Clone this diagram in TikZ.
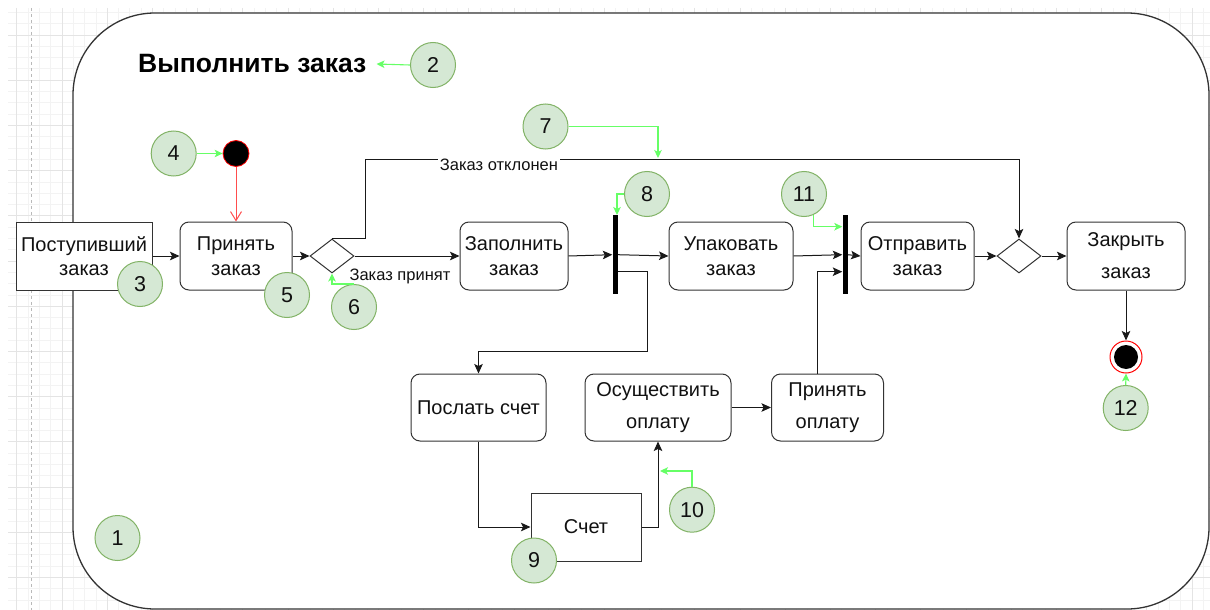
\documentclass[tikz,border=0pt]{standalone}
\usepackage{fontspec}
\setmainfont{Liberation Sans}
\usetikzlibrary{arrows.meta,shapes.geometric,calc}

\definecolor{numfill}{HTML}{D5E8D4}
\definecolor{numdraw}{HTML}{82B366}
\definecolor{garrow}{HTML}{66FF66}
\definecolor{rarrow}{HTML}{FF4D4D}
\definecolor{linec}{HTML}{333333}
\definecolor{gridminor}{HTML}{F3F3F3}
\definecolor{gridmajor}{HTML}{E4E4E4}
\definecolor{txt}{HTML}{111111}

\newcommand\bxfont{\fontsize{20}{24.5}\selectfont}
\newcommand\bxfontw{\fontsize{20}{32}\selectfont}
\newcommand\lblfont{\fontsize{16.5}{19}\selectfont}
\newcommand\numfnt{\fontsize{21.5}{24}\selectfont}
\newcommand\ttlfont{\fontsize{26.5}{30}\selectfont\bfseries}

\tikzset{
  act/.style={draw=linec, line width=1pt, rounded corners=9pt, fill=white,
    align=center, font=\bxfont, text=txt, inner sep=0pt, minimum height=68pt},
  wideact/.style={act, font=\bxfontw},
  obj/.style={draw=linec, line width=1pt, fill=white, align=center,
    font=\bxfont, text=txt, inner sep=0pt, minimum height=68pt},
  dia/.style={diamond, draw=linec, line width=1pt, fill=white,
    minimum width=44pt, minimum height=34pt, inner sep=0pt},
  bar/.style={rectangle, fill=black, draw=none, minimum width=5pt,
    minimum height=79pt, inner sep=0pt},
  num/.style={circle, fill=numfill, draw=numdraw, line width=1pt,
    minimum size=45pt, inner sep=0pt, font=\numfnt, text=txt},
  initnode/.style={circle, fill=black, draw=red, line width=0.8pt,
    minimum size=26pt, inner sep=0pt},
  finalnode/.style={circle, fill=white, draw=red, line width=1pt,
    minimum size=32pt, inner sep=0pt,
    path picture={\fill[black] (path picture bounding box.center) circle (12pt);}},
  arr/.style={draw=black!90, line width=1pt,
    -{Stealth[length=9.5pt,width=8.5pt,inset=2pt]}},
  garr/.style={draw=garrow, line width=1.1pt,
    -{Stealth[length=8pt,width=7.5pt,inset=2pt]}},
  rarr/.style={draw=rarrow, line width=1pt,
    -{Straight Barb[length=9pt,width=11pt]}},
  lbl/.style={font=\lblfont, text=txt, inner sep=2pt}
}

\begin{document}
\begin{tikzpicture}[x=1pt,y=-1pt]
\useasboundingbox (0,0) rectangle (1210,610);

% background grid
\begin{scope}
  \clip (8,8) rectangle (1210,610);
  \foreach \k [evaluate=\k as \gx using 16.8+11.3*\k] in {0,...,106}
    \draw[gridminor, line width=0.8pt] (\gx,8) -- (\gx,610);
  \foreach \k [evaluate=\k as \gy using 12.4+11.3*\k] in {0,...,53}
    \draw[gridminor, line width=0.8pt] (8,\gy) -- (1210,\gy);
  \foreach \k [evaluate=\k as \gx using 16.8+45.2*\k] in {0,...,26}
    \draw[gridmajor, line width=0.8pt] (\gx,8) -- (\gx,610);
  \foreach \k [evaluate=\k as \gy using 35+45.2*\k] in {0,...,13}
    \draw[gridmajor, line width=0.8pt] (8,\gy) -- (1210,\gy);
  \draw[gray!55, line width=0.8pt, dash pattern=on 3pt off 3pt] (31,8) -- (31,610);
\end{scope}

% activity frame
\filldraw[fill=white, draw=linec, line width=1.3pt, rounded corners=82pt]
  (73,13) rectangle (1209,609);

% title
\node[font=\ttlfont, text=black, inner xsep=10pt, inner ysep=0pt, anchor=west]
  (title) at (128,64) {Выполнить заказ};

% nodes
\node[initnode] (init) at (236,153.5) {};
\node[obj, minimum width=136pt] (post) at (84,256) {Поступивший\\заказ};
\node[act, minimum width=112pt] (accept) at (236,256) {Принять\\заказ};
\node[dia] (d1) at (332,256) {};
\node[act, minimum width=108pt] (fill) at (514,256) {Заполнить\\заказ};
\node[bar] (fork1) at (615,254.7) {};
\node[act, minimum width=124pt] (pack) at (731,256) {Упаковать\\заказ};
\node[bar] (join) at (845,254.7) {};
\node[act, minimum width=113pt] (ship) at (917.5,256) {Отправить\\заказ};
\node[dia] (d2) at (1019,256) {};
\node[wideact, minimum width=118pt] (close) at (1126,256) {Закрыть\\заказ};
\node[finalnode] (final) at (1126,357) {};
\node[act, minimum width=135pt, minimum height=67pt] (send) at (478.5,407.5) {Послать счет};
\node[wideact, minimum width=146pt, minimum height=67pt] (pay) at (658,407.5) {Осуществить\\оплату};
\node[wideact, minimum width=112pt, minimum height=67pt] (payok) at (827.5,407.5) {Принять\\оплату};
\node[obj, minimum width=110pt] (bill) at (586,527) {Счет};

% helper coordinates
\coordinate (rj) at (1019,159);
\coordinate (rl) at (365,159);
\coordinate (c1) at (647,351);
\coordinate (r7) at (658,158);
\coordinate (r10) at (660,471);

% connectors
\draw[rarr] (init.south) -- (accept.north);
\draw[arr] (post.east) -- (accept.west);
\draw[arr] (accept.east) -- (d1.west);
\draw[arr] (d1.north) -| (rl) -- (rj) -- (d2.north);
\node[lbl, fill=white] (rej) at (499,165) {Заказ отклонен};
\draw[arr] (d1.east) -- (fill.west);
\node[lbl] (acc) at (400,276) {Заказ принят};
\draw[arr] (fill.east) -- (fork1.west);
\draw[arr] (fork1.east) -- (pack.west);
\draw[arr] ([yshift=-17pt]fork1.east) -| (c1) -| (send.north);
\draw[arr] (pack.east) -- (join.west);
\draw[arr] ([xshift=-10pt]payok.north) |- ([yshift=-17pt]join.west);
\draw[arr] (join.east) -- (ship.west);
\draw[arr] (ship.east) -- (d2.west);
\draw[arr] (d2.east) -- (close.west);
\draw[arr] (close.south) -- (final.north);
\draw[arr] (send.south) |- (bill.west);
\draw[arr] (bill.east) -| (pay.south);
\draw[arr] (pay.east) -- (payok.west);

% numbered markers
\node[num] (n1) at (117.5,538) {1};
\node[num] (n2) at (433,65) {2};
\node[num] (n3) at (140,284) {3};
\node[num] (n4) at (173.7,153.5) {4};
\node[num] (n5) at (287,295) {5};
\node[num] (n6) at (354,307) {6};
\node[num] (n7) at (545.5,126.5) {7};
\node[num] (n8) at (647,194) {8};
\node[num] (n9) at (534,560.5) {9};
\node[num] (n10) at (692,509.7) {10};
\node[num] (n11) at (804,194) {11};
\node[num] (n12) at (1125.7,408) {12};

% green pointers
\draw[garr] (n2.west) -- (title.east);
\draw[garr] (n4.east) -- (init.west);
\draw[garr] (n6.north) -| (d1.south);
\draw[garr] (n7.east) -| (r7);
\draw[garr] (n8.west) -| ([xshift=2pt]fork1.north);
\draw[garr] (n11.-65) |- ([yshift=28pt]join.west);
\draw[garr] (n10.north) |- (r10);
\draw[garr] (n12.north) -- (final.south);
\end{tikzpicture}
\end{document}
